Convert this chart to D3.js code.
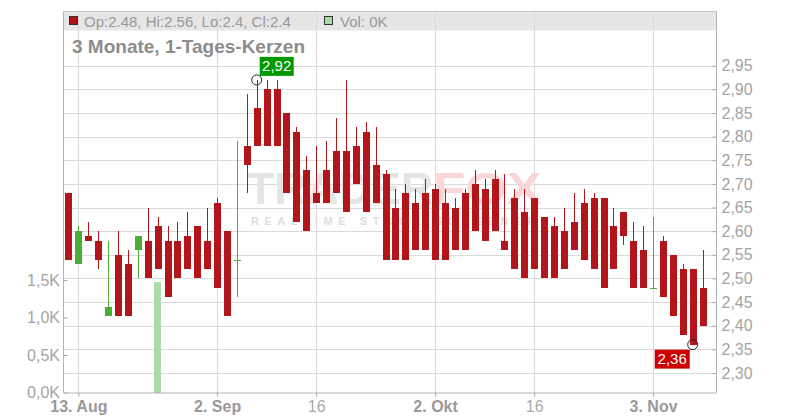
<!DOCTYPE html>
<html><head><meta charset="utf-8">
<script src="https://cdn.jsdelivr.net/npm/d3@7"></script>
<style>
html,body{margin:0;padding:0;background:#fff;}
svg{display:block;font-family:"Liberation Sans",Arial,sans-serif;}
</style></head>
<body><svg id="c" width="800" height="420"></svg>
<script>
const dates = ["12.08","13.08","14.08","15.08","18.08","19.08","20.08","21.08","22.08","25.08",
"26.08","27.08","28.08","29.08","01.09","02.09","03.09","04.09","05.09","08.09",
"09.09","10.09","11.09","12.09","15.09","16.09","17.09","18.09","19.09","22.09",
"23.09","24.09","25.09","26.09","29.09","30.09","01.10","02.10","03.10","06.10",
"07.10","08.10","09.10","10.10","13.10","14.10","15.10","16.10","17.10","20.10",
"21.10","22.10","23.10","24.10","27.10","28.10","29.10","30.10","31.10","03.11",
"04.11","05.11","06.11","07.11","10.11"];
const open = [2.68,2.53,2.59,2.58,2.42,2.55,2.53,2.56,2.58,2.61,
2.58,2.58,2.59,2.61,2.58,2.66,2.60,2.54,2.78,2.86,
2.90,2.90,2.85,2.81,2.73,2.68,2.73,2.77,2.77,2.78,
2.81,2.74,2.72,2.65,2.68,2.66,2.68,2.69,2.66,2.65,
2.68,2.70,2.69,2.71,2.58,2.67,2.64,2.67,2.63,2.61,
2.60,2.62,2.66,2.67,2.67,2.61,2.64,2.58,2.56,2.48,
2.58,2.55,2.52,2.52,2.48];
const high = [2.68,2.61,2.62,2.60,2.58,2.60,2.56,2.59,2.65,2.63,
2.61,2.62,2.64,2.61,2.65,2.67,2.60,2.79,2.89,2.92,
2.92,2.92,2.85,2.82,2.76,2.78,2.79,2.84,2.92,2.82,
2.83,2.82,2.73,2.69,2.70,2.69,2.71,2.70,2.69,2.67,
2.69,2.73,2.71,2.73,2.72,2.69,2.69,2.67,2.63,2.63,
2.65,2.68,2.69,2.68,2.67,2.65,2.64,2.62,2.61,2.63,
2.59,2.55,2.53,2.52,2.56];
const low = [2.54,2.53,2.58,2.52,2.42,2.42,2.42,2.50,2.50,2.52,
2.46,2.50,2.52,2.50,2.52,2.48,2.42,2.46,2.68,2.78,
2.78,2.78,2.68,2.62,2.60,2.66,2.66,2.68,2.64,2.70,
2.64,2.66,2.54,2.54,2.54,2.56,2.56,2.54,2.54,2.56,
2.56,2.60,2.58,2.60,2.56,2.52,2.50,2.52,2.50,2.50,
2.52,2.56,2.54,2.52,2.48,2.52,2.57,2.48,2.48,2.48,
2.46,2.42,2.38,2.36,2.40];
const close = [2.54,2.60,2.58,2.54,2.44,2.42,2.42,2.59,2.50,2.52,
2.46,2.50,2.52,2.50,2.52,2.48,2.42,2.54,2.74,2.78,
2.78,2.78,2.68,2.62,2.60,2.66,2.66,2.68,2.64,2.70,
2.64,2.66,2.54,2.54,2.54,2.56,2.56,2.54,2.54,2.56,
2.56,2.60,2.58,2.60,2.56,2.52,2.50,2.52,2.50,2.50,
2.52,2.56,2.54,2.52,2.48,2.52,2.59,2.48,2.48,2.48,
2.46,2.42,2.38,2.36,2.40];
const volume = [0,0,0,0,0,0,0,0,0,1480,
0,0,0,0,0,0,0,0,0,0,
0,0,0,0,0,0,0,0,0,0,
0,0,0,0,0,0,0,0,0,0,
0,0,0,0,0,0,0,0,0,0,
0,0,0,0,0,0,0,0,0,0,
0,0,0,0,0];
const priceTicks = [2.30,2.35,2.40,2.45,2.50,2.55,2.60,2.65,2.70,2.75,2.80,2.85,2.90,2.95];
const volTicks = [0,500,1000,1500];
const dateTickIdx = [1,15,25,37,47,59];
const dateTickLabels = ["13. Aug","2. Sep","16","2. Okt","16","3. Nov"];
const title = "3 Monate, 1-Tages-Kerzen";

const RED = "#b2161a", GREEN = "#4aae34", VOLC = "#aadcaa";
const L = 63.5, R = 716.5, T = 11.5, B = 392.5;

const svg = d3.select("#c");
const x = d3.scaleLinear().domain([-0.5, 65.4]).range([L, R]);
const y = d3.scaleLinear().domain([2.30, 2.95]).range([373, 65.7]);
const yv = d3.scaleLinear().domain([0, 1500]).range([B, 280]);
const fmt = d => d.toFixed(2).replace(".", ",");
const fmtK = d => (d/1000).toFixed(1).replace(".", ",") + "K";

// legend band
svg.append("rect").attr("x", L).attr("y", T).attr("width", R-L).attr("height", 19)
  .attr("fill", "#e6e6e6");
svg.append("line").attr("x1", L).attr("x2", R).attr("y1", T).attr("y2", T)
  .attr("stroke", "#c8c8c8");

// grid
const grid = svg.append("g").attr("stroke", "#dadada").attr("shape-rendering", "crispEdges");
grid.selectAll(".h").data(priceTicks).join("line")
  .attr("x1", L).attr("x2", R).attr("y1", d => Math.round(y(d))+0.5).attr("y2", d => Math.round(y(d))+0.5);
grid.selectAll(".v").data(dateTickIdx).join("line")
  .attr("y1", T).attr("y2", B).attr("x1", d => Math.round(x(d))+0.5).attr("x2", d => Math.round(x(d))+0.5);

// watermark
const wm = svg.append("g");
wm.append("text").attr("x", 247).attr("y", 204).attr("font-size", 45).attr("font-weight", "bold")
  .attr("fill", "#e4e4e4").attr("textLength", 186).attr("lengthAdjust", "spacingAndGlyphs").text("TRADER");
wm.append("text").attr("x", 433).attr("y", 204).attr("font-size", 45).attr("font-weight", "bold")
  .attr("fill", "#fad6d6").attr("textLength", 109).attr("lengthAdjust", "spacingAndGlyphs").text("FOX");
wm.append("text").attr("x", 251).attr("y", 225).attr("font-size", 11).attr("font-weight", "bold")
  .attr("fill", "#dddddd").attr("textLength", 284).attr("lengthAdjust", "spacing").text("REALTIME STOCK SCREENER");

// volume bars
svg.append("g").selectAll("rect").data(volume.map((v,i)=>({v,i})).filter(d=>d.v>0)).join("rect")
  .attr("x", d => x(d.i)-3.5).attr("width", 7)
  .attr("y", d => yv(d.v)).attr("height", d => B - yv(d.v))
  .attr("fill", VOLC).attr("shape-rendering", "crispEdges");

// candles
const data = dates.map((d,i)=>({i, o:open[i], h:high[i], l:low[i], c:close[i]}));
const cg = svg.append("g").attr("shape-rendering", "crispEdges");
const col = d => d.c >= d.o ? GREEN : RED;
cg.selectAll(".w").data(data).join("line")
  .attr("x1", d => Math.round(x(d.i))+0.5).attr("x2", d => Math.round(x(d.i))+0.5)
  .attr("y1", d => y(d.h)).attr("y2", d => y(d.l))
  .attr("stroke", col).attr("stroke-width", 1);
cg.selectAll(".b").data(data).join("rect")
  .attr("x", d => Math.round(x(d.i))-3).attr("width", 7)
  .attr("y", d => y(Math.max(d.o,d.c)))
  .attr("height", d => Math.max(1.2, Math.abs(y(d.o)-y(d.c))))
  .attr("fill", col);

// axes
const axisStyle = g => {
  g.select(".domain").attr("stroke", "#b4b4b4");
  g.selectAll(".tick line").attr("stroke", "#a8a8a8");
  g.selectAll("text").attr("fill", "#a4a4a4").attr("font-size", 16)
    .attr("font-family", "Liberation Sans, Arial, sans-serif");
};
svg.append("g").attr("transform", `translate(${R},0)`)
  .call(d3.axisRight(y).tickValues(priceTicks).tickFormat(fmt).tickSize(-4).tickPadding(5).tickSizeOuter(0))
  .call(axisStyle)
  .call(g => g.select(".domain").attr("d", `M0,${T}V${B}`));
svg.append("g").attr("transform", `translate(${L},0)`)
  .call(d3.axisLeft(yv).tickValues(volTicks).tickFormat(fmtK).tickSize(-4).tickPadding(3.5).tickSizeOuter(0))
  .call(axisStyle)
  .call(g => g.select(".domain").attr("d", `M0,${T}V${B}`));
svg.append("g").attr("transform", `translate(0,${B})`)
  .call(d3.axisBottom(x).tickValues(dateTickIdx).tickFormat((d,k)=>dateTickLabels[k]).tickSize(4).tickPadding(4).tickSizeOuter(0))
  .call(axisStyle)
  .call(g => g.selectAll("text").attr("font-weight", (d,k)=> dateTickLabels[k].includes(".") ? "bold" : "normal")
    .attr("fill", (d,k)=> dateTickLabels[k].includes(".") ? "#999" : "#aaa"));

// legend
const last = dates.length-1;
svg.append("rect").attr("x", 69.5).attr("y", 16.5).attr("width", 8).attr("height", 8)
  .attr("fill", RED).attr("stroke", "#333");
svg.append("text").attr("x", 84).attr("y", 26.5).attr("font-size", 15).attr("fill", "#999")
  .text(`Op:${open[last]}, Hi:${high[last]}, Lo:${low[last]}, Cl:${close[last]}`);
svg.append("rect").attr("x", 324.5).attr("y", 16.5).attr("width", 8).attr("height", 8)
  .attr("fill", VOLC).attr("stroke", "#333");
svg.append("text").attr("x", 340).attr("y", 26.5).attr("font-size", 15).attr("fill", "#999")
  .text(`Vol: ${Math.round(volume[last]/1000)}K`);

// title
svg.append("text").attr("x", 72).attr("y", 53).attr("font-size", 19).attr("font-weight", "bold")
  .attr("fill", "#8c8c8c").text(title);

// max / min markers
const iMax = d3.maxIndex(high), iMin = d3.minIndex(low);
const pMax = [x(iMax), y(high[iMax])], pMin = [x(iMin), y(low[iMin])];
svg.append("rect").attr("x", pMax[0]+3).attr("y", pMax[1]-23).attr("width", 34).attr("height", 19).attr("fill", "#009900");
svg.append("text").attr("x", pMax[0]+20).attr("y", pMax[1]-8.5).attr("text-anchor", "middle")
  .attr("font-size", 15).attr("fill", "#fff").text(fmt(high[iMax]));
svg.append("circle").attr("cx", pMax[0]).attr("cy", pMax[1]).attr("r", 5).attr("fill", "none").attr("stroke", "#222");
svg.append("rect").attr("x", pMin[0]-38).attr("y", pMin[1]+5).attr("width", 35).attr("height", 19).attr("fill", "#cc0000");
svg.append("text").attr("x", pMin[0]-20.5).attr("y", pMin[1]+19.5).attr("text-anchor", "middle")
  .attr("font-size", 15).attr("fill", "#fff").text(fmt(low[iMin]));
svg.append("circle").attr("cx", pMin[0]).attr("cy", pMin[1]).attr("r", 5).attr("fill", "none").attr("stroke", "#222");
</script></body></html>
